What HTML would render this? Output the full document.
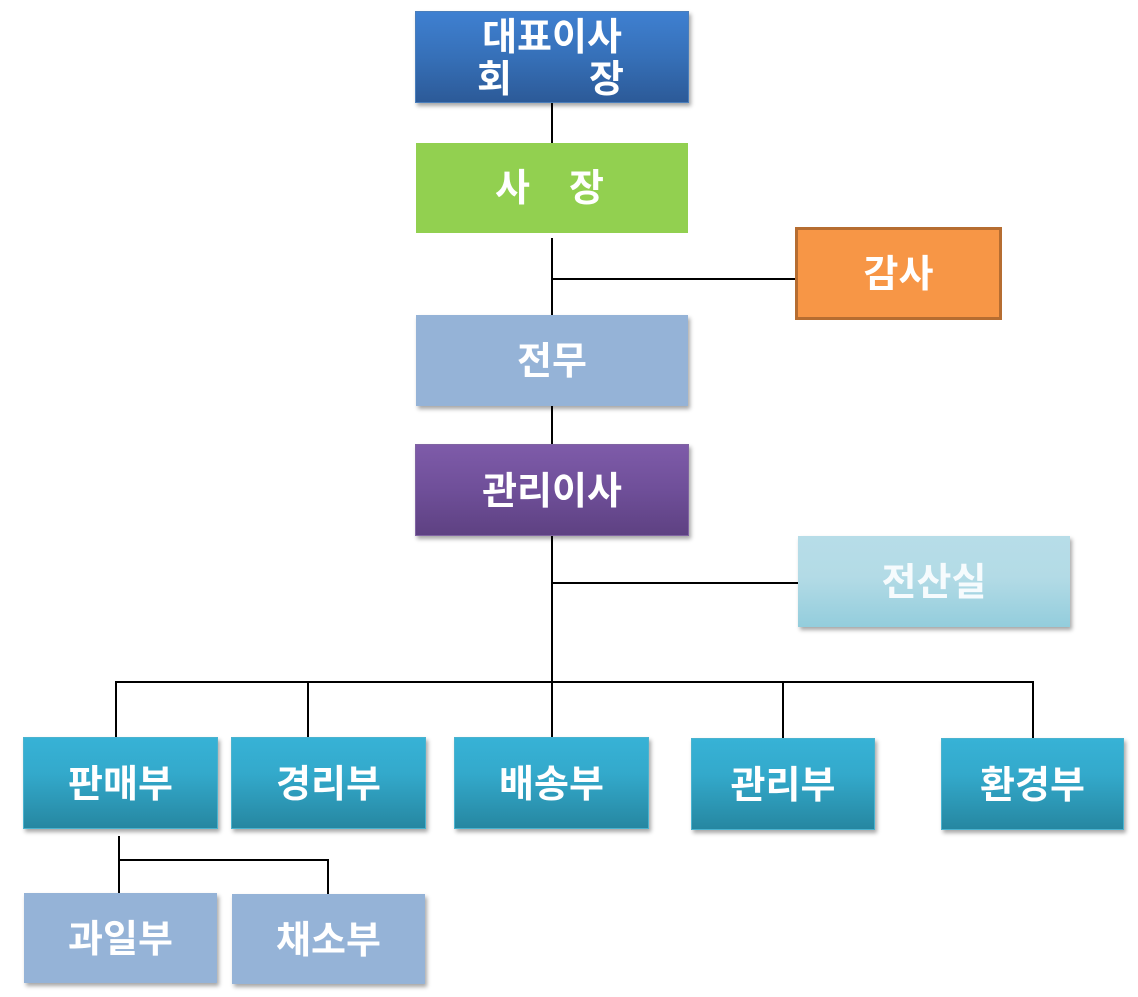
<!DOCTYPE html>
<html>
<head>
<meta charset="utf-8">
<style>
  html,body{margin:0;padding:0;background:#fff;}
  body{width:1138px;height:997px;position:relative;overflow:hidden;
    font-family:"Liberation Sans","Noto Sans CJK KR",sans-serif;}
  .b{position:absolute;box-sizing:border-box;color:#fff;font-weight:bold;font-size:38px;
    display:flex;align-items:center;justify-content:center;white-space:pre;line-height:1;padding-top:3px;}
  .sh{box-shadow:2px 3px 4px rgba(0,0,0,0.35);}
  .teal{background:linear-gradient(#37b2d6,#33a9cb 40%,#2687a1);border:1.5px solid #4bb3cf;}
  .lb{background:#95b3d7;}
  .l{position:absolute;background:#000;}
  .t{position:absolute;color:#fff;font-weight:bold;font-size:38px;line-height:1;}
</style>
</head>
<body>
<!-- connectors -->
<div class="l" style="left:551px;top:103px;width:2px;height:40px"></div>
<div class="l" style="left:551px;top:238px;width:2px;height:77px"></div>
<div class="l" style="left:551px;top:278px;width:246px;height:2px"></div>
<div class="l" style="left:551px;top:406px;width:2px;height:38px"></div>
<div class="l" style="left:551px;top:530px;width:2px;height:208px"></div>
<div class="l" style="left:551px;top:582px;width:247px;height:2px"></div>
<div class="l" style="left:115px;top:681px;width:919px;height:2px"></div>
<div class="l" style="left:115px;top:681px;width:2px;height:56px"></div>
<div class="l" style="left:307px;top:681px;width:2px;height:57px"></div>
<div class="l" style="left:782px;top:681px;width:2px;height:57px"></div>
<div class="l" style="left:1032px;top:681px;width:2px;height:57px"></div>
<div class="l" style="left:118px;top:836px;width:2px;height:57px"></div>
<div class="l" style="left:118px;top:859px;width:211px;height:2px"></div>
<div class="l" style="left:327px;top:859px;width:2px;height:35px"></div>

<!-- 대표이사 회장 -->
<div class="b sh" style="left:415px;top:11px;width:274px;height:92px;background:linear-gradient(#3f80d1,#3670b8 50%,#2c5a98);border:1px solid #4a7ebb;"></div>
<div class="t" style="left:415px;top:19px;width:274px;text-align:center;">대표이사</div>
<div class="t" style="left:477px;top:61px;">회</div>
<div class="t" style="left:589px;top:61px;">장</div>

<!-- 사장 -->
<div class="b" style="left:416px;top:143px;width:272px;height:90px;background:#92d050;"></div>
<div class="t" style="left:495px;top:170px;">사</div>
<div class="t" style="left:569px;top:170px;">장</div>

<!-- 감사 -->
<div class="b" style="left:795px;top:227px;width:207px;height:93px;background:#f79646;border:3px solid #b66d31;">감사</div>

<!-- 전무 -->
<div class="b sh lb" style="left:416px;top:315px;width:272px;height:91px;">전무</div>

<!-- 관리이사 -->
<div class="b sh" style="left:415px;top:444px;width:274px;height:92px;background:linear-gradient(#7e5ba9,#6f4f99 50%,#5e4182);border:1px solid #8064a2;">관리이사</div>

<!-- 전산실 -->
<div class="b sh" style="left:798px;top:536px;width:272px;height:91px;background:linear-gradient(#b7dde8,#b3dbe6 45%,#93cddc);color:#f6fbfd;">전산실</div>

<!-- departments -->
<div class="b sh teal" style="left:23px;top:737px;width:195px;height:92px;">판매부</div>
<div class="b sh teal" style="left:231px;top:737px;width:195px;height:92px;">경리부</div>
<div class="b sh teal" style="left:454px;top:737px;width:195px;height:92px;">배송부</div>
<div class="b sh teal" style="left:691px;top:738px;width:184px;height:92px;">관리부</div>
<div class="b sh teal" style="left:941px;top:738px;width:183px;height:92px;">환경부</div>

<!-- sub departments -->
<div class="b sh lb" style="left:24px;top:893px;width:193px;height:90px;">과일부</div>
<div class="b sh lb" style="left:232px;top:894px;width:193px;height:90px;">채소부</div>
</body>
</html>
